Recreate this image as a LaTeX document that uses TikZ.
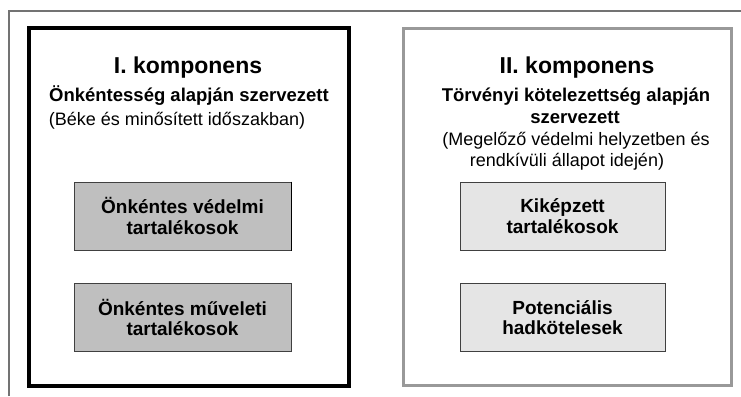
\documentclass[tikz,border=0pt]{standalone}
\usepackage{fontspec}
\setmainfont{Liberation Sans}
\begin{document}
\begin{tikzpicture}[x=1pt,y=-1pt,
  title/.style={font=\fontsize{23}{26}\selectfont\bfseries, inner sep=0pt, anchor=base},
  sub/.style={font=\fontsize{18.5}{22}\selectfont\bfseries, inner sep=0pt, anchor=base},
  note/.style={font=\fontsize{18}{22}\selectfont, inner sep=0pt, anchor=base},
  cbox/.style={draw=black!75, line width=1pt, align=center, inner sep=0pt,
    font=\fontsize{19}{20.5}\selectfont\bfseries, minimum height=68pt},
  darkbox/.style={cbox, fill=black!25, minimum width=217pt},
  lightbox/.style={cbox, fill=black!10, minimum width=205pt}]
\useasboundingbox (0,0) rectangle (741,396);
\fill[white] (0,0) rectangle (741,396);
% outer frame lines
\coordinate (ftl) at (9,11);
\coordinate (ftr) at (741,11);
\coordinate (fbl) at (9,396);
\draw[black!55, line width=1.3pt] (fbl) -- (ftl) -- (ftr);
% component frames
\node[draw=black, line width=4pt, minimum width=320pt, minimum height=358pt, inner sep=0pt] (comp1) at (189,207) {};
\node[draw=black!40, line width=3.5pt, minimum width=328pt, minimum height=357pt, inner sep=0pt] (comp2) at (567.5,207) {};
% left texts
\node[title] (t1) at (188,74) {I. komponens};
\node[sub] (s1) at (189,101.7) {Önkéntesség alapján szervezett};
\node[note] (n1) at (177,125) {(Béke és minősített időszakban)};
% right texts
\node[title] (t2) at (577,74) {II. komponens};
\node[sub] (s2a) at (576,101) {Törvényi kötelezettség alapján};
\node[sub] (s2b) at (575,123) {szervezett};
\node[note] (n2a) at (576,145.5) {(Megelőző védelmi helyzetben és};
\node[note] (n2b) at (567,166.5) {rendkívüli állapot idején)};
% inner boxes
\node[darkbox] (b1) at (182.5,216) {Önkéntes védelmi\\tartalékosok};
\node[darkbox] (b2) at (182.5,317.5) {Önkéntes műveleti\\tartalékosok};
\node[lightbox] (b3) at (562.5,216) {Kiképzett\\tartalékosok};
\node[lightbox] (b4) at (562.5,317.5) {Potenciális\\hadkötelesek};
\draw[black, line width=1.6pt] (b1.north east) -- (b1.south east);
\end{tikzpicture}
\end{document}
